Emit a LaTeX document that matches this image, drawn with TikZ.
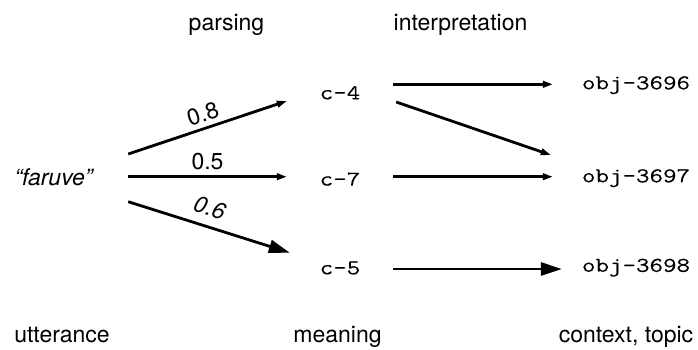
\documentclass[tikz,border=0pt]{standalone}
\usepackage{fontspec}
\setmainfont{TeX Gyre Heros}
\newfontfamily\monof[FakeStretch=1.25,FakeBold=0.25]{Latin Modern Mono}
\usetikzlibrary{arrows.meta}
\begin{document}
\begin{tikzpicture}[x=1pt,y=-1pt,
  lab/.style={font=\fontsize{23}{28}\selectfont, inner sep=0pt},
  num/.style={font=\fontsize{23}{27}\selectfont, inner sep=0pt, sloped, above=5pt},
  mono/.style={font=\fontsize{21}{24}\monof, inner sep=0pt, text height=12.6pt, text depth=0pt},
  arr/.style={line width=2.8pt, -{Triangle[length=10pt,width=6.5pt]}},
  bigarr/.style={line width=2.8pt, -{Triangle[length=21pt,width=13pt]}}]
\useasboundingbox (0,0) rectangle (698,349);
% column labels
\node[lab, anchor=base] (pars) at (226.5,30) {parsing};
\node[lab, anchor=base] (interp) at (460.5,30) {interpretation};
\node[lab, anchor=base] (utt) at (62,342) {utterance};
\node[lab, anchor=base] (mean) at (337.5,342) {meaning};
\node[lab, anchor=base] (ctx) at (626,342) {context, topic};
% utterance
\node[lab, font=\fontsize{23}{28}\selectfont\itshape, minimum width=149pt] (fa) at (53.5,177.5) {“faruve”};
% meanings
\node[mono, minimum width=106pt] (c4) at (340,93) {c-4};
\node[mono, minimum width=106pt] (c7) at (340,179.3) {c-7};
\node[mono, minimum width=106pt] (c5) at (340,268) {c-5};
% objects
\node[mono, minimum width=166pt] (o1) at (636,83) {obj-3696};
\node[mono, minimum width=166pt] (o2) at (636,176) {obj-3697};
\node[mono, minimum width=166pt] (o3) at (636,265.5) {obj-3698};
% parsing arrows
\draw[arr] ([yshift=23.5pt]fa.east) -- node[num, pos=0.5] {0.8} ([yshift=-8pt]c4.west);
\draw[arr] ([yshift=0.8pt]fa.east) -- node[num, pos=0.5] {0.5} ([yshift=2.6pt]c7.west);
\draw[bigarr] ([yshift=-24.2pt]fa.east) -- node[num, pos=0.47, font=\fontsize{23}{27}\selectfont\itshape, above=4pt] {0.6} ([xshift=3pt,yshift=15.3pt]c5.west);
% interpretation arrows
\draw[arr] ([yshift=8.7pt]c4.east) -- ([yshift=-1.3pt]o1.west);
\draw[arr] ([xshift=3pt,yshift=-9pt]c4.east) -- ([xshift=-2pt,yshift=21pt]o2.west);
\draw[arr] ([yshift=2.6pt]c7.east) -- ([yshift=-0.7pt]o2.west);
\draw[bigarr] ([yshift=-1pt]c5.east) -- ([xshift=9pt,yshift=-3.5pt]o3.west);
\end{tikzpicture}
\end{document}
